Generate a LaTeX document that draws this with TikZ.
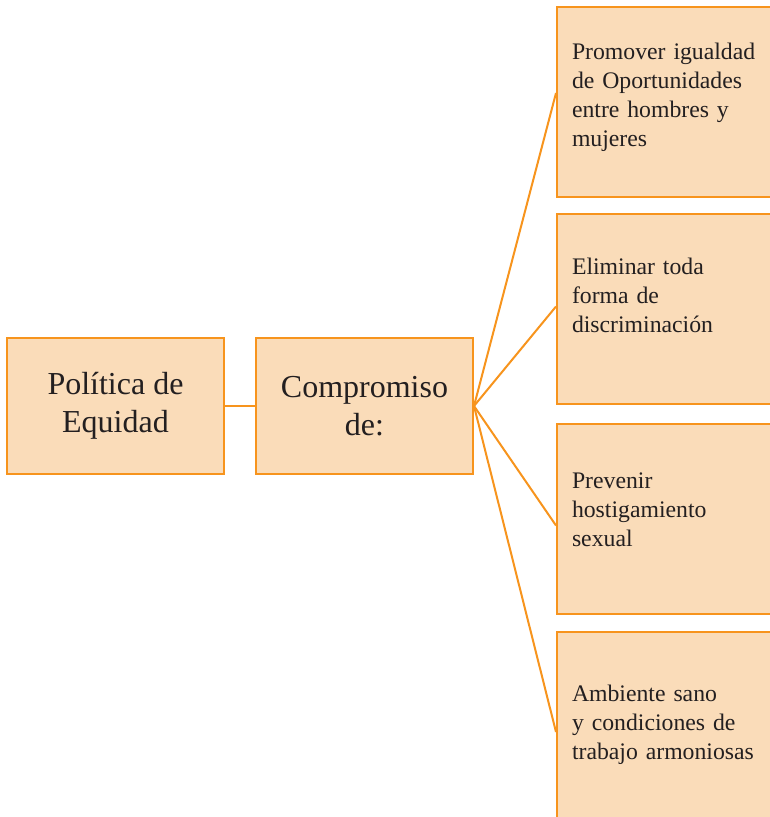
\documentclass[tikz,border=0pt]{standalone}
\usepackage{fontspec}
\setmainfont{Liberation Serif}
\usetikzlibrary{calc,positioning}

\definecolor{boxfill}{HTML}{FADCB9}
\definecolor{boxline}{HTML}{F7941D}
\definecolor{textgray}{HTML}{231F20}
\tikzset{lift/.style={execute at end node={\endgraf\vspace{#1}}}}

\begin{document}
\begin{tikzpicture}[x=0.75pt,y=-0.75pt]
      \tikzstyle{mainbox} = [draw=boxline, fill=boxfill, line width=1.5pt, minimum width=162.75pt, minimum height=102pt, inner sep=0pt, align=center, text=textgray, font=\fontsize{24}{28.5}\selectfont]
      \tikzstyle{itembox} = [draw=boxline, fill=boxfill, line width=1.5pt, minimum width=175.5pt, minimum height=142.5pt, inner xsep=11.25pt, text width=153pt, align=left, anchor=north west, text=textgray, font=\fontsize{17.8}{21.75}\selectfont]
      \tikzstyle{link} = [draw=boxline, line width=1.5pt]
      \useasboundingbox (0,0) rectangle (770,817);
      \clip (0,0) rectangle (770,817);

      \node[mainbox] (pol) at (115.5,406) {Pol\'itica de\\Equidad};
      \node[mainbox] (comp) at (364.5,406) {Compromiso\\de:};

      \node[itembox, lift=7.5pt] (igual) at (556,6) {Promover igualdad\\de Oportunidades\\entre hombres y\\mujeres};
      \node[itembox, lift=19.5pt] (discr) at (556,212.5) {Eliminar toda\\forma de\\discriminaci\'on};
      \node[itembox, lift=13.5pt] (hostig) at (556,422.5) {Prevenir\\hostigamiento\\sexual};
      \node[itembox, lift=3pt] (ambiente) at (556,631) {Ambiente sano\\y condiciones de\\trabajo armoniosas};

      \draw[link] (pol) -- (comp);
      \draw[link] (comp.east) -- ([yshift=6.75pt]igual.west);
      \draw[link] (comp.east) -- ([yshift=1.5pt]discr.west);
      \draw[link] (comp.east) -- ([yshift=-5.25pt]hostig.west);
      \draw[link] (comp.east) -- ([yshift=-3.75pt]ambiente.west);
\end{tikzpicture}
\end{document}
